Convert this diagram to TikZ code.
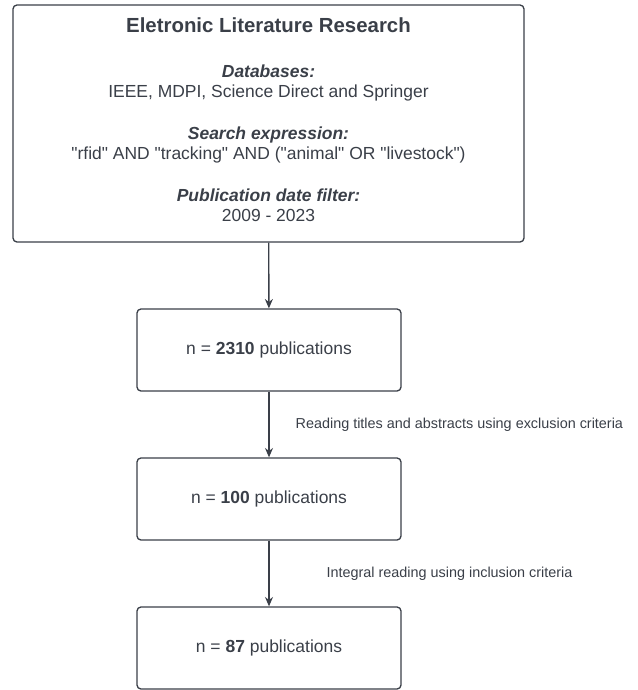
\documentclass[tikz,border=0pt]{standalone}
\usepackage{fontspec}
\setmainfont{Liberation Sans}
\usepackage{xcolor}
\usetikzlibrary{positioning, arrows.meta}
\definecolor{FlowInk}{RGB}{58,63,72}

\begin{document}
\begin{tikzpicture}[x=0.75pt, y=0.75pt,
          box/.style={draw=FlowInk, line width=1pt, rounded corners=3pt,
                      minimum width=264*0.75pt, minimum height=82*0.75pt,
                      text=FlowInk, font=\fontsize{13.1}{15}\selectfont, align=center},
          arr/.style={-{Stealth[length=7pt, width=6pt]}, draw=FlowInk, line width=1pt},
          lbl/.style={anchor=west, inner sep=0pt, text=FlowInk,
                      font=\fontsize{10.8}{12}\selectfont}
        ]
        \useasboundingbox (0,0) rectangle (637,-690);

        % Search description
        \node[box, minimum width=511*0.75pt, minimum height=237*0.75pt]
              (search) at (268.5,-123.5)
              {{\fontsize{15.3}{18}\selectfont\bfseries Eletronic Literature Research}\\[18.5pt]
               \textbf{\itshape Databases:}\\
               IEEE, MDPI, Science Direct and Springer\\[16.5pt]
               \textbf{\itshape Search expression:}\\
               \textquotedbl rfid\textquotedbl{} AND \textquotedbl tracking\textquotedbl{} AND
               (\textquotedbl animal\textquotedbl{} OR \textquotedbl livestock\textquotedbl)\\[16.5pt]
               \textbf{\itshape Publication date filter:}\\
               2009 - 2023\\[-9pt]\mbox{}};

        % Publication counts
        \node[box] (all) at (269,-350) {n = \textbf{2310} publications};
        \node[box] (excl) at (269,-499) {n = \textbf{100} publications};
        \node[box] (incl) at (269,-648) {n = \textbf{87} publications};

        \draw[arr] (search) -- (all);
        \draw[arr] (all) -- node[lbl, xshift=26*0.75pt]
              {Reading titles and abstracts using exclusion criteria} (excl);
        \draw[arr] (excl) -- node[lbl, xshift=57*0.75pt]
              {Integral reading using inclusion criteria} (incl);
      \end{tikzpicture}
\end{document}
